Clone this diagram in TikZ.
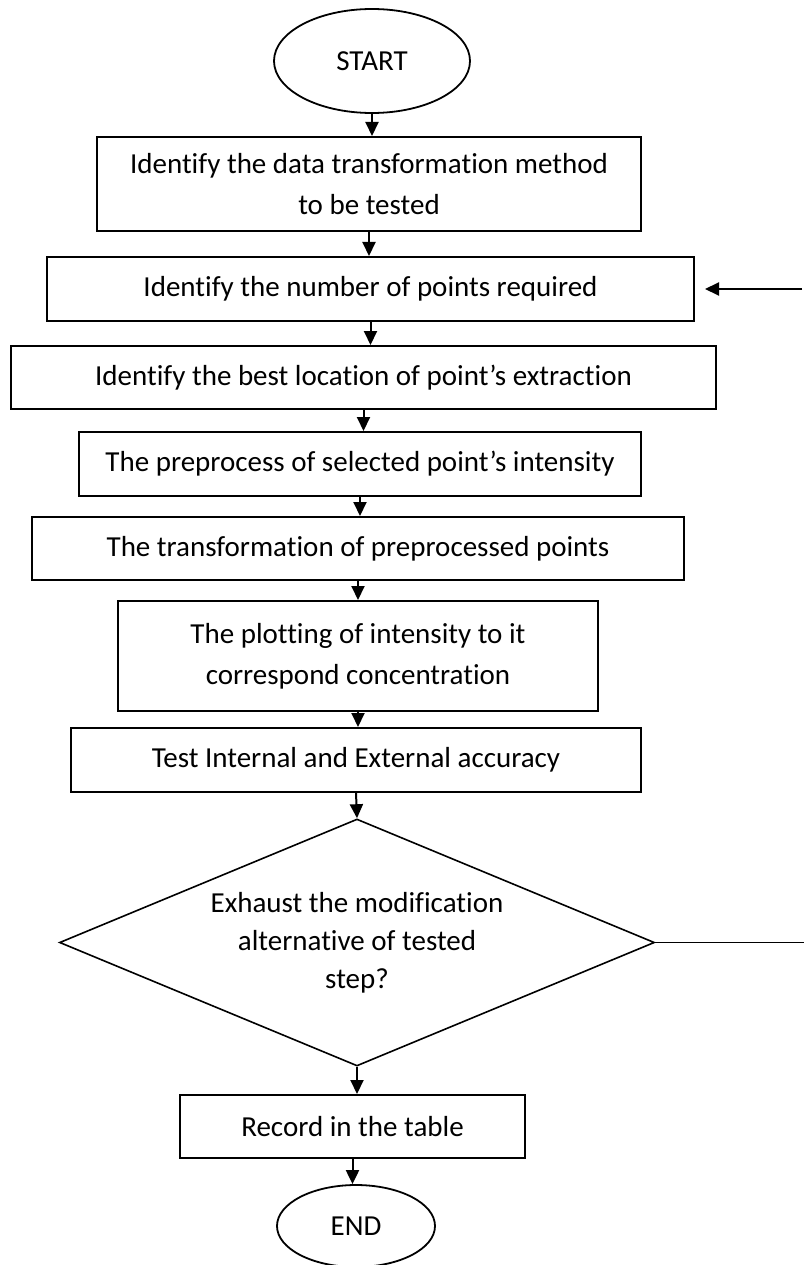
\documentclass[tikz,border=0pt]{standalone}
\usepackage{fontspec}
\setmainfont{Carlito}[Ligatures=NoCommon]
\usetikzlibrary{shapes.geometric,arrows.meta}

\begin{document}
\begin{tikzpicture}[x=1pt, y=-1pt, line width=2pt,
  >={Triangle[length=14pt,width=13pt]},
  every node/.style={font=\fontsize{29pt}{41pt}\selectfont, inner sep=0pt},
  stepbox/.style={draw, rectangle, align=center},
  terminal/.style={draw, ellipse, line width=1.8pt},
  decision/.style={draw, diamond, line width=1.6pt, align=center,
    font=\fontsize{29pt}{38pt}\selectfont}]
\useasboundingbox (0,0) rectangle (804,1265);

\node[terminal, minimum width=196pt, minimum height=104pt] (start) at (372,61) {START};
\node[stepbox, minimum width=544pt, minimum height=94pt] (b1) at (369,184) {Identify the data transformation method\\ to be tested};
\node[stepbox, minimum width=647pt, minimum height=64pt] (b2) at (370.5,289) {Identify the number of points required};
\node[stepbox, minimum width=705pt, minimum height=63pt] (b3) at (363.5,377.5) {Identify the best location of point’s extraction};
\node[stepbox, minimum width=562pt, minimum height=64pt] (b4) at (360,464) {The preprocess of selected point’s intensity};
\node[stepbox, minimum width=652pt, minimum height=63pt] (b5) at (358,548.5) {The transformation of preprocessed points};
\node[stepbox, minimum width=480pt, minimum height=110pt] (b6) at (358,656) {The plotting of intensity to it\\ correspond concentration};
\node[stepbox, minimum width=570pt, minimum height=64pt] (b7) at (356,760) {Test Internal and External accuracy};
\node[decision, shape aspect=2.4, minimum width=595pt, minimum height=247pt] (d) at (357,942.5) {Exhaust the modification\\ alternative of tested\\ step?};
\node[stepbox, minimum width=345pt, minimum height=63pt] (b8) at (352.5,1126.5) {Record in the table};
\node[terminal, minimum width=158pt, minimum height=82pt] (end) at (356,1226) {END};

\coordinate (loopout) at (804,942.5);
\coordinate (loopin) at (802,289);

\draw[->] (start.south) -- (start.south |- b1.north);
\draw[->] (b1.south) -- (b1.south |- b2.north);
\draw[->] (b2.south) -- (b2.south |- b3.north);
\draw[->] (b3.south) -- (b3.south |- b4.north);
\draw[->] (b4.south) -- (b4.south |- b5.north);
\draw[->] (b5.south) -- (b5.south |- b6.north);
\draw[->] (b6.south) -- (b6.south |- b7.north);
\draw[->] (b7.south) -- (d.north);
\draw[->] (d.south) -- (d.south |- b8.north);
\draw[->] (b8.south) -- (b8.south |- end.north);
\draw[line width=1.6pt] (d.east) -- (loopout);
\draw[->] (loopin) -- ([xshift=10pt]b2.east);
\end{tikzpicture}
\end{document}
